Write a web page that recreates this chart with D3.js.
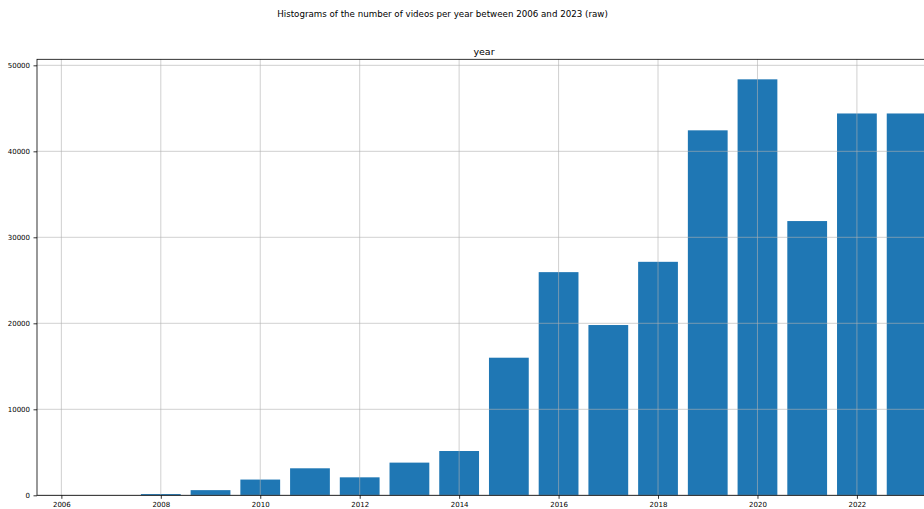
<!DOCTYPE html>
<html>
<head>
<meta charset="utf-8">
<script src="https://cdn.jsdelivr.net/npm/d3@7"></script>
<style>
  html, body { margin: 0; padding: 0; background: #fff; overflow: hidden; }
  svg { display: block; font-family: "DejaVu Sans", sans-serif; }
</style>
</head>
<body>
<script>
// Yearly video counts
const years  = [2006, 2007, 2008, 2009, 2010, 2011, 2012, 2013, 2014, 2015, 2016, 2017, 2018, 2019, 2020, 2021, 2022, 2023];
const counts = [0, 0, 150, 600, 1830, 3140, 2090, 3800, 5150, 16000, 25950, 19800, 27150, 42440, 48370, 31890, 44400, 44400];

const xTicks = [2006, 2008, 2010, 2012, 2014, 2016, 2018, 2020, 2022];
const yTicks = [0, 10000, 20000, 30000, 40000, 50000];

const suptitle = "Histograms of the number of videos per year between 2006 and 2023 (raw)";
const axTitle = "year";

const W = 924, H = 509;
const plot = { left: 37, right: 931, top: 59.3, bottom: 495.3 };

const svg = d3.select("body").append("svg")
  .attr("width", W).attr("height", H);

const x = d3.scaleLinear().domain([2005.51, 2023.49]).range([plot.left, plot.right]);
const y = d3.scaleLinear().domain([0, 50700]).range([plot.bottom, plot.top]);

const barWidth = 0.8; // in years

// Bars
svg.append("g")
  .selectAll("rect")
  .data(years.map((yr, i) => ({ yr, v: counts[i] })))
  .join("rect")
  .attr("x", d => x(d.yr - barWidth / 2))
  .attr("width", d => x(d.yr + barWidth / 2) - x(d.yr - barWidth / 2))
  .attr("y", d => y(d.v))
  .attr("height", d => y(0) - y(d.v))
  .attr("fill", "#1f77b4");

// Grid drawn above the bars
const grid = svg.append("g")
  .attr("stroke", "#b0b0b0")
  .attr("stroke-opacity", 0.75)
  .attr("stroke-width", 0.8);
grid.selectAll("line.gx").data(xTicks).join("line")
  .attr("class", "gx")
  .attr("x1", d => x(d)).attr("x2", d => x(d))
  .attr("y1", plot.top).attr("y2", plot.bottom);
grid.selectAll("line.gy").data(yTicks).join("line")
  .attr("class", "gy")
  .attr("x1", plot.left).attr("x2", plot.right)
  .attr("y1", d => y(d)).attr("y2", d => y(d));

// Axes
const xAxis = d3.axisBottom(x).tickValues(xTicks).tickFormat(d3.format("d"))
  .tickSize(3.5).tickPadding(3.5);
const yAxis = d3.axisLeft(y).tickValues(yTicks).tickFormat(d3.format("d"))
  .tickSize(3.5).tickPadding(3.5);

const gx = svg.append("g").attr("transform", `translate(0,${plot.bottom})`).call(xAxis);
const gy = svg.append("g").attr("transform", `translate(${plot.left},0)`).call(yAxis);
[gx, gy].forEach(g => {
  g.select(".domain").remove();
  g.selectAll(".tick line").attr("stroke", "#000").attr("stroke-width", 0.8);
  g.selectAll(".tick text")
    .attr("fill", "#000")
    .style("font-family", "'DejaVu Sans', sans-serif")
    .style("font-size", "7px");
});

// Frame
svg.append("rect")
  .attr("x", plot.left).attr("y", plot.top)
  .attr("width", plot.right - plot.left).attr("height", plot.bottom - plot.top)
  .attr("fill", "none").attr("stroke", "#000").attr("stroke-width", 0.8);

// Titles
svg.append("text")
  .attr("x", 442.5).attr("y", 17)
  .attr("text-anchor", "middle")
  .style("font-size", "8.7px")
  .attr("fill", "#000")
  .text(suptitle);

svg.append("text")
  .attr("x", (plot.left + plot.right) / 2).attr("y", 54.5)
  .attr("text-anchor", "middle")
  .style("font-size", "9.5px")
  .attr("fill", "#000")
  .text(axTitle);
</script>
</body>
</html>
